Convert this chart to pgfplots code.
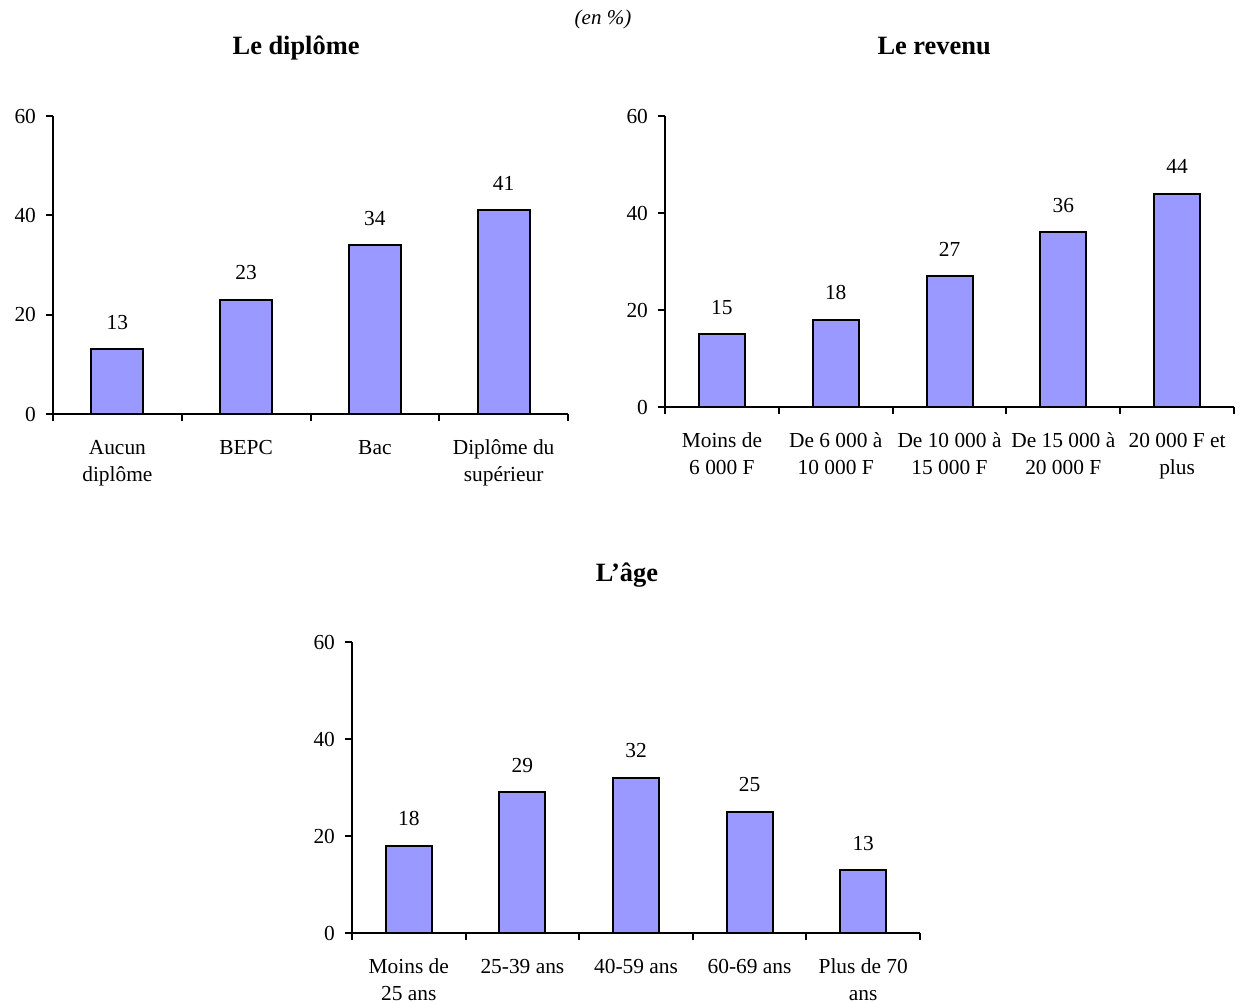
\documentclass[border=0pt]{standalone}
\usepackage{fontspec}
\setmainfont{Liberation Serif}
\usepackage{pgfplots}
\pgfplotsset{compat=1.18}
\definecolor{barblue}{HTML}{9999FF}
\pgfplotsset{
  mybar/.style={
    scale only axis,
    anchor=south west,
    axis lines=left,
    axis line style={-, line width=1pt},
    ymin=0, ymax=60,
    ytick={0,20,40,60},
    tick align=outside,
    major tick length=3.5pt,
    tick style={black, line width=1pt},
    x tick label as interval,
    /pgf/number format/assume math mode=true,
    tick label style={font=\fontsize{10.7}{13.5}\selectfont},
    yticklabel style={xshift=-1.5pt},
    xticklabel style={align=center, anchor=north, yshift=-6pt},
    ybar,
    nodes near coords,
    nodes near coords style={font=\fontsize{10.7}{13.5}\selectfont, yshift=6pt},
    title style={font=\fontsize{13.2}{15}\selectfont\bfseries, anchor=center, yshift=-6.5pt},
  },
  mybars/.style={fill=barblue, draw=black, line width=1pt},
}
\begin{document}
\begin{tikzpicture}
\path[use as bounding box] (0,0) rectangle (620pt,-501pt);
\node[font=\fontsize{10.5}{13}\selectfont\itshape] at (301.5pt,-9.5pt) {(en \%)};

% Le diplome
\begin{axis}[mybar,
  at={(26.5pt,-207pt)},
  width=257.5pt, height=149pt,
  xmin=0.5, xmax=4.5,
  bar width=26pt,
  xtick={0.5,1.5,2.5,3.5,4.5},
  xticklabels={{Aucun\\diplôme},BEPC,Bac,{Diplôme du\\supérieur}},
  title={Le diplôme},
  title style={at={(0.472,1.2315)}},
]
\addplot[mybars] coordinates {(1,13) (2,23) (3,34) (4,41)};
\end{axis}

% Le revenu
\begin{axis}[mybar,
  at={(332.5pt,-203.5pt)},
  width=284.5pt, height=145.5pt,
  xmin=0.5, xmax=5.5,
  bar width=23pt,
  xtick={0.5,1.5,2.5,3.5,4.5,5.5},
  xticklabels={{Moins de\\6 000 F},{De 6 000 à\\10 000 F},{De 10 000 à\\15 000 F},{De 15 000 à\\20 000 F},{20 000 F et\\plus}},
  title={Le revenu},
  title style={at={(0.473,1.237)}, yshift=1pt},
]
\addplot[mybars] coordinates {(1,15) (2,18) (3,27) (4,36) (5,44)};
\end{axis}

% L'age
\begin{axis}[mybar,
  at={(176pt,-466.5pt)},
  width=284pt, height=145.5pt,
  xmin=0.5, xmax=5.5,
  bar width=23pt,
  xtick={0.5,1.5,2.5,3.5,4.5,5.5},
  xticklabels={{Moins de\\25 ans},{25-39 ans},{40-59 ans},{60-69 ans},{Plus de 70\\ans}},
  title={L’âge},
  title style={at={(0.484,1.2337)}},
]
\addplot[mybars] coordinates {(1,18) (2,29) (3,32) (4,25) (5,13)};
\end{axis}
\end{tikzpicture}
\end{document}
